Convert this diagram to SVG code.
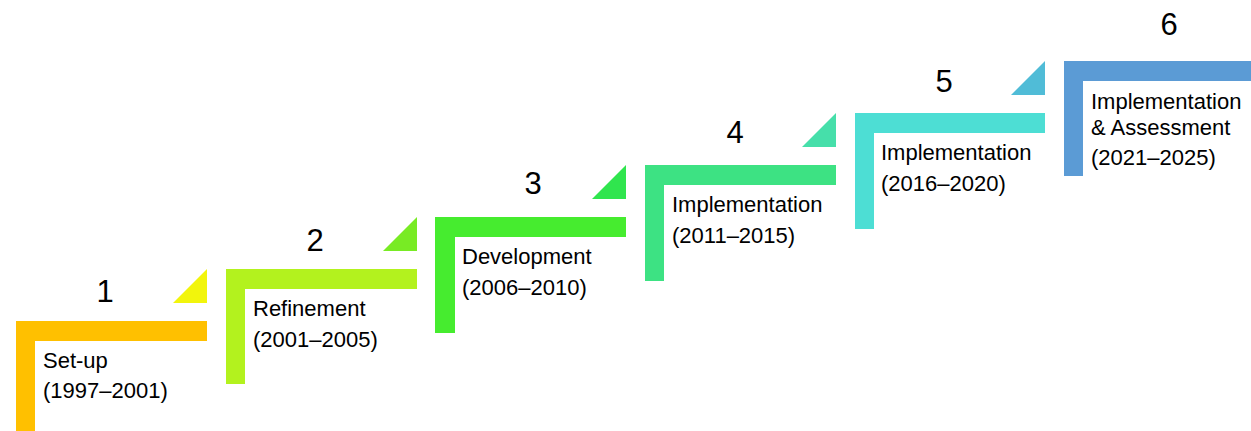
<svg xmlns="http://www.w3.org/2000/svg" width="1251" height="431" viewBox="0 0 1251 431">
<style>
.num{font-family:"Liberation Sans",Arial,sans-serif;font-size:31px;fill:#000;text-anchor:middle}
.lbl{font-family:"Liberation Sans",Arial,sans-serif;font-size:22px;fill:#000}
</style>
<rect width="1251" height="431" fill="#fff"/>
<g id="step1">
<path d="M16 321H207V341H35V436H16Z" fill="#FFC000"/>
<polygon points="207,269 207,303 173,303" fill="#F2F50C"/>
<text class="num" x="105" y="302">1</text>
<text class="lbl" x="43" y="368">Set-up</text>
<text class="lbl" x="43" y="398">(1997–2001)</text>
</g>
<g id="step2">
<path d="M226 269H417V289H245V384H226Z" fill="#B3F21E"/>
<polygon points="417,217 417,251 383,251" fill="#78EB24"/>
<text class="num" x="315" y="251">2</text>
<text class="lbl" x="253" y="316">Refinement</text>
<text class="lbl" x="253" y="347">(2001–2005)</text>
</g>
<g id="step3">
<path d="M435 217H626V237H455V333H435Z" fill="#46EC2F"/>
<polygon points="626,165 626,199 592,199" fill="#30E54E"/>
<text class="num" x="533" y="194">3</text>
<text class="lbl" x="462" y="264">Development</text>
<text class="lbl" x="462" y="295">(2006–2010)</text>
</g>
<g id="step4">
<path d="M645 165H836V185H664V281H645Z" fill="#3DE283"/>
<polygon points="836,113 836,147 802,147" fill="#46DFAA"/>
<text class="num" x="735" y="143">4</text>
<text class="lbl" x="672" y="212">Implementation</text>
<text class="lbl" x="672" y="243">(2011–2015)</text>
</g>
<g id="step5">
<path d="M855 113H1045V133H874V229H855Z" fill="#4DDED4"/>
<polygon points="1045,61 1045,95 1011,95" fill="#50BCD7"/>
<text class="num" x="944" y="92">5</text>
<text class="lbl" x="881" y="160">Implementation</text>
<text class="lbl" x="881" y="191">(2016–2020)</text>
</g>
<g id="step6">
<path d="M1064 61H1256V81H1083V176H1064Z" fill="#5B9BD5"/>
<text class="num" x="1169" y="35">6</text>
<text class="lbl" x="1091" y="109">Implementation</text>
<text class="lbl" x="1091" y="135">&amp; Assessment</text>
<text class="lbl" x="1091" y="165">(2021–2025)</text>
</g>
<g id="connectors"/>
</svg>
